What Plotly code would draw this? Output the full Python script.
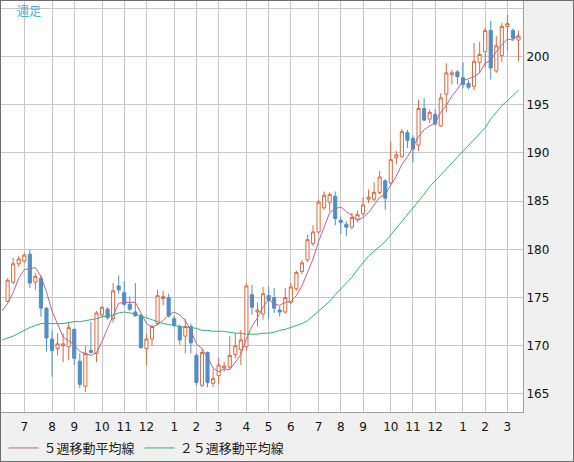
import plotly.graph_objects as go

# weekly candles, week index 0..92
weeks = list(range(93))
opens = [174.6, 176.6, 178.5, 178.8, 179.5, 176.6, 177.0, 173.9, 170.7, 169.7,
         170.0, 169.9, 171.7, 168.4, 165.8, 169.5, 169.2, 173.2, 173.8, 172.8,
         176.2, 175.5, 174.3, 173.5, 173.1, 169.7, 170.7, 172.3, 174.9, 175.0,
         172.8, 172.0, 171.0, 172.0, 169.0, 165.9, 169.3, 166.1, 166.9, 167.7,
         167.8, 169.1, 169.6, 169.9, 175.3, 173.5, 173.3, 175.2, 175.0, 173.7,
         173.5, 174.5, 175.9, 177.7, 178.9, 180.6, 181.8, 184.3, 184.9, 185.5,
         183.0, 182.6, 182.3, 183.1, 183.7, 185.2, 185.2, 185.9, 187.1, 186.9,
         189.5, 189.6, 192.1, 191.5, 190.8, 194.6, 193.5, 194.0, 192.8, 196.1,
         198.1, 198.4, 197.8, 197.2, 196.9, 199.4, 200.5, 202.7, 198.5, 200.1,
         203.1, 202.7, 201.7]
highs = [177.0, 179.1, 179.3, 179.6, 180.0, 177.5, 177.3, 174.0, 171.6, 171.3,
         171.3, 172.4, 171.8, 169.2, 170.0, 172.5, 173.6, 174.1, 174.0, 176.5,
         177.3, 176.7, 175.1, 176.5, 173.3, 171.3, 172.2, 175.8, 175.7, 175.4,
         173.1, 172.2, 172.8, 172.3, 169.2, 169.7, 169.4, 167.6, 168.7, 168.3,
         171.0, 171.3, 171.6, 176.5, 176.3, 174.5, 176.1, 176.1, 176.0, 174.1,
         176.0, 176.5, 177.8, 178.9, 181.5, 182.5, 185.1, 186.0, 185.9, 186.0,
         183.4, 182.9, 183.8, 184.0, 185.4, 186.2, 187.0, 188.1, 187.3, 191.2,
         190.2, 192.5, 192.4, 191.8, 195.5, 195.7, 194.5, 194.5, 196.2, 199.3,
         198.6, 198.6, 199.4, 197.5, 201.4, 201.5, 203.0, 203.7, 202.1, 203.5,
         204.3, 202.9, 202.7]
lows = [174.5, 176.4, 178.2, 178.6, 176.0, 175.8, 173.0, 169.4, 166.8, 169.0,
        168.3, 168.5, 168.0, 165.6, 165.2, 169.2, 168.3, 173.0, 172.7, 172.4,
        175.4, 174.1, 173.6, 173.0, 169.7, 168.0, 170.0, 172.1, 174.2, 172.9,
        171.9, 170.1, 169.2, 169.2, 165.9, 165.7, 165.7, 165.7, 166.0, 167.3,
        167.6, 168.7, 168.0, 169.5, 173.2, 172.0, 172.7, 172.8, 173.4, 173.0,
        173.3, 174.3, 175.7, 177.4, 178.7, 180.3, 181.6, 184.1, 183.9, 182.5,
        181.6, 181.4, 182.1, 182.8, 183.5, 184.8, 185.0, 185.7, 184.1, 186.8,
        188.8, 189.5, 190.5, 189.0, 190.2, 193.3, 193.1, 192.8, 192.7, 194.2,
        197.1, 197.1, 196.7, 196.6, 196.5, 198.3, 198.9, 197.6, 198.3, 199.4,
        200.6, 201.6, 199.5]
closes = [176.8, 178.5, 179.0, 179.4, 176.5, 177.2, 173.9, 170.8, 169.5, 170.2,
          170.2, 171.9, 168.7, 166.0, 169.2, 169.3, 173.4, 174.0, 172.9, 175.7,
          175.8, 174.3, 173.8, 173.1, 169.8, 170.7, 172.0, 175.2, 175.1, 173.1,
          172.1, 170.6, 172.0, 170.3, 166.2, 169.3, 166.2, 166.6, 168.0, 167.9,
          169.0, 170.0, 170.6, 176.2, 174.0, 173.7, 175.4, 174.7, 173.9, 173.5,
          175.0, 176.1, 177.6, 178.6, 181.0, 181.8, 184.9, 185.6, 185.7, 183.2,
          182.8, 182.3, 183.3, 183.6, 184.6, 185.4, 185.9, 187.5, 185.3, 189.3,
          189.8, 192.2, 191.3, 190.4, 194.6, 193.4, 194.2, 193.0, 195.7, 198.3,
          198.3, 197.9, 197.1, 196.8, 199.5, 200.2, 202.7, 198.8, 201.1, 203.1,
          203.4, 201.9, 202.1]

# moving averages start one week before the first visible candle
ma_weeks = list(range(-1, 93))
ma5 = [173.6, 174.4, 175.5, 177.0, 177.9, 178.0, 178.1, 177.2, 175.6, 173.6,
       172.3, 170.9, 170.5, 170.1, 169.4, 169.2, 169.0, 169.3, 170.4, 171.8,
       173.1, 174.4, 174.5, 174.5, 174.5, 173.4, 172.3, 171.9, 172.2, 172.6,
       173.2, 173.5, 173.2, 172.6, 171.6, 170.2, 169.7, 168.8, 167.7, 167.3,
       167.6, 167.5, 168.3, 169.1, 170.7, 172.0, 172.9, 174.0, 174.8, 174.3,
       174.2, 174.5, 174.6, 175.2, 176.2, 177.7, 179.0, 180.8, 182.4, 183.8,
       184.2, 184.4, 183.9, 183.5, 183.0, 183.3, 183.8, 184.6, 185.4, 185.7,
       186.7, 187.6, 188.8, 189.6, 190.6, 191.7, 192.4, 192.8, 193.1, 194.2,
       194.9, 195.9, 196.6, 197.5, 197.7, 197.9, 198.3, 199.3, 199.6, 200.5,
       201.2, 201.8, 201.7, 202.3]
ma25 = [170.6, 170.8, 171.0, 171.3, 171.6, 171.9, 172.1, 172.3, 172.3, 172.3,
        172.3, 172.3, 172.4, 172.5, 172.5, 172.6, 172.7, 172.8, 173.0, 173.1,
        173.2, 173.4, 173.5, 173.4, 173.3, 173.1, 172.9, 172.7, 172.5, 172.3,
        172.2, 172.1, 172.0, 171.9, 171.9, 171.8, 171.6, 171.6, 171.5, 171.5,
        171.5, 171.4, 171.3, 171.3, 171.2, 171.2, 171.2, 171.3, 171.3, 171.4,
        171.6, 171.7, 171.9, 172.1, 172.3, 172.6, 173.1, 173.5, 174.0, 174.6,
        175.3, 175.9, 176.5, 177.1, 177.9, 178.6, 179.3, 179.8, 180.3, 180.8,
        181.5, 182.2, 182.9, 183.5, 184.2, 185.0, 185.7, 186.5, 187.1, 187.7,
        188.4, 189.0, 189.6, 190.2, 190.7, 191.3, 191.9, 192.6, 193.5, 194.2,
        194.9, 195.4, 196.0, 196.5]

# first week of each month
month_weeks = [3, 8, 12, 17, 21, 25, 30, 34, 38, 43, 47, 51, 56, 60, 64, 69, 73, 77, 82, 86, 90]
month_labels = ["7", "8", "9", "10", "11", "12", "1", "2", "3", "4", "5", "6",
                "7", "8", "9", "10", "11", "12", "1", "2", "3"]
price_ticks = [165, 170, 175, 180, 185, 190, 195, 200, 205]
price_labels = ["165", "170", "175", "180", "185", "190", "195", "200", ""]

RED = "#e2673e"
BLUE = "#4f8fc6"
PINK = "#b8648f"
GREEN = "#2fb474"
GRID = "#c8c8c8"

W, H = 574, 462
ML, MR, MT, MB = 1, 51, 1, 50
pw, ph = W - ML - MR, H - MT - MB

fig = go.Figure()
fig.add_trace(go.Candlestick(
    x=weeks, open=opens, high=highs, low=lows, close=closes,
    increasing=dict(line=dict(color=RED, width=1), fillcolor="white"),
    decreasing=dict(line=dict(color=BLUE, width=1), fillcolor=BLUE),
    whiskerwidth=0, showlegend=False, hoverinfo="skip"))
fig.add_trace(go.Scatter(x=ma_weeks, y=ma5, mode="lines", name="５週移動平均線",
                         line=dict(color=PINK, width=1)))
fig.add_trace(go.Scatter(x=ma_weeks, y=ma25, mode="lines", name="２５週移動平均線",
                         line=dict(color=GREEN, width=1)))

fig.update_layout(
    width=W, height=H,
    margin=dict(l=ML, r=MR, t=MT, b=MB, autoexpand=False),
    paper_bgcolor="#f0f0f0", plot_bgcolor="white",
    boxgap=0.25, boxgroupgap=0.25,
    showlegend=True,
    legend=dict(orientation="h", x=0.005, xanchor="left", y=-36 / ph, yanchor="middle",
                font=dict(family="Noto Sans CJK JP", size=13, color="#222222"),
                bgcolor="rgba(0,0,0,0)"),
)
fig.update_xaxes(range=[-1.19, 92.81], tickvals=month_weeks, ticktext=month_labels,
                 showgrid=True, gridcolor=GRID, gridwidth=1, zeroline=False,
                 showline=True, linecolor="#a0a0a0", mirror=True, ticks="",
                 ticklabelstandoff=4,
                 tickfont=dict(family="DejaVu Sans", size=12, color="#111111"),
                 rangeslider=dict(visible=False))
fig.update_yaxes(side="right", range=[163.13, 205.75], tickvals=price_ticks, ticktext=price_labels,
                 showgrid=True, gridcolor=GRID, gridwidth=1, zeroline=False,
                 showline=True, linecolor="#a0a0a0", mirror=True, ticks="",
                 tickfont=dict(family="DejaVu Sans", size=12, color="#111111"))

fig.add_annotation(text="週足", xref="paper", yref="paper",
                   x=(15 - ML) / pw, y=1 - (10.5 - MT) / ph, xanchor="left", yanchor="middle",
                   showarrow=False, font=dict(family="Noto Sans CJK JP", size=12, color="#38b6e6"))

# outer frame of the whole picture
fig.add_shape(type="rect", xref="paper", yref="paper",
              x0=-ML / pw, x1=1 + MR / pw, y0=-MB / ph, y1=1 + MT / ph,
              line=dict(color="#6d6d6d", width=2), fillcolor="rgba(0,0,0,0)")

# page body has a default 8px margin; drop it so the figure fills the window
fig.write_html("out.html", config={"displayModeBar": False},
               post_script="document.body.style.margin = '0px';")
